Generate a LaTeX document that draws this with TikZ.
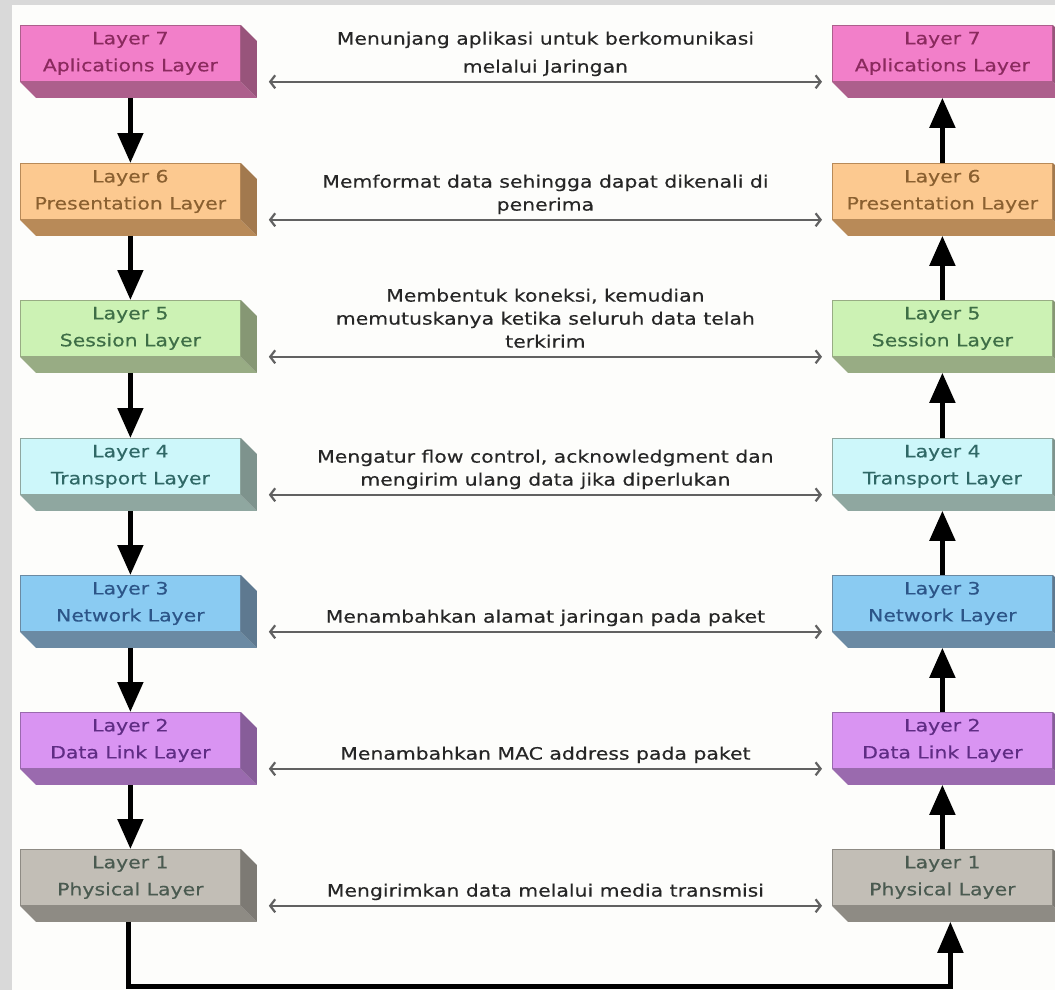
\documentclass[tikz,border=0pt]{standalone}
\usepackage{fontspec}
\setmainfont[FakeStretch=1.2,FakeBold=0.35]{DejaVu Sans}
\usetikzlibrary{arrows.meta,calc}
\definecolor{bgray}{HTML}{D9D9D9}
\definecolor{panel}{HTML}{FDFDFB}
\definecolor{f7}{HTML}{F27FC9}\definecolor{d7}{HTML}{AD5F8C}\definecolor{t7}{HTML}{8A2A5E}
\definecolor{f6}{HTML}{FCC990}\definecolor{d6}{HTML}{B88A58}\definecolor{t6}{HTML}{8A6030}
\definecolor{f5}{HTML}{CCF2B4}\definecolor{d5}{HTML}{98AC84}\definecolor{t5}{HTML}{3E6E46}
\definecolor{f4}{HTML}{CDF7FA}\definecolor{d4}{HTML}{8FA7A0}\definecolor{t4}{HTML}{2F6866}
\definecolor{f3}{HTML}{8ACBF2}\definecolor{d3}{HTML}{6B8AA3}\definecolor{t3}{HTML}{2C5588}
\definecolor{f2}{HTML}{D994F2}\definecolor{d2}{HTML}{9A6AAE}\definecolor{t2}{HTML}{5F2C84}
\definecolor{f1}{HTML}{C2BEB6}\definecolor{d1}{HTML}{8E8B84}\definecolor{t1}{HTML}{4A5A50}
\newcommand\layerbox[7]{%
  \node[layerbox,fill=#4,draw=#5,text=#6] (#1) at (#2,#3) {#7};
  \fill[#5] (#1.south west) -- ++(16,16) -- ($(#1.south east)+(16,16)$) -- (#1.south east) -- cycle;
  \fill[#5!88!black] (#1.north east) -- ++(16,16) -- ($(#1.south east)+(16,16)$) -- (#1.south east) -- cycle;
}
\begin{document}
\begin{tikzpicture}[x=1pt,y=-1pt,
  layerbox/.style={minimum width=220pt,minimum height=56pt,inner sep=0pt,anchor=north west,
    align=center,line width=0.8pt,font=\fontsize{17}{27}\selectfont},
  desc/.style={align=center,inner sep=0pt,text depth=5pt,anchor=south,text=black!85,
    font=\fontsize{17}{23}\selectfont},
  link/.style={draw=black!62,line width=2.2pt,
    {Straight Barb[length=5pt,width=13pt]}-{Straight Barb[length=5pt,width=13pt]}},
  flow/.style={line width=5pt,-{Triangle[length=30pt,width=25pt]}},
  loopline/.style={line width=5pt,-{Triangle[length=31pt,width=25pt]}},
]
\clip (0,0) rectangle (1055,990);
\fill[bgray] (0,0) rectangle (1055,990);
\fill[panel] (12,5) rectangle (1055,990);

% left column
\layerbox{L7}{20}{25}{f7}{d7}{t7}{Layer 7\\Aplications Layer}
\layerbox{L6}{20}{163}{f6}{d6}{t6}{Layer 6\\Presentation Layer}
\layerbox{L5}{20}{300}{f5}{d5}{t5}{Layer 5\\Session Layer}
\layerbox{L4}{20}{438}{f4}{d4}{t4}{Layer 4\\Transport Layer}
\layerbox{L3}{20}{575}{f3}{d3}{t3}{Layer 3\\Network Layer}
\layerbox{L2}{20}{712}{f2}{d2}{t2}{Layer 2\\Data Link Layer}
\layerbox{L1}{20}{849}{f1}{d1}{t1}{Layer 1\\Physical Layer}
% right column
\layerbox{R7}{832}{25}{f7}{d7}{t7}{Layer 7\\Aplications Layer}
\layerbox{R6}{832}{163}{f6}{d6}{t6}{Layer 6\\Presentation Layer}
\layerbox{R5}{832}{300}{f5}{d5}{t5}{Layer 5\\Session Layer}
\layerbox{R4}{832}{438}{f4}{d4}{t4}{Layer 4\\Transport Layer}
\layerbox{R3}{832}{575}{f3}{d3}{t3}{Layer 3\\Network Layer}
\layerbox{R2}{832}{712}{f2}{d2}{t2}{Layer 2\\Data Link Layer}
\layerbox{R1}{832}{849}{f1}{d1}{t1}{Layer 1\\Physical Layer}

% down arrows (left)
\draw[flow] ($(L7.south)+(0,16)$) -- (L6.north);
\draw[flow] ($(L6.south)+(0,16)$) -- (L5.north);
\draw[flow] ($(L5.south)+(0,16)$) -- (L4.north);
\draw[flow] ($(L4.south)+(0,16)$) -- (L3.north);
\draw[flow] ($(L3.south)+(0,16)$) -- (L2.north);
\draw[flow] ($(L2.south)+(0,16)$) -- (L1.north);
% up arrows (right)
\draw[flow] (R6.north) -- ($(R7.south)+(0,16)$);
\draw[flow] (R5.north) -- ($(R6.south)+(0,16)$);
\draw[flow] (R4.north) -- ($(R5.south)+(0,16)$);
\draw[flow] (R3.north) -- ($(R4.south)+(0,16)$);
\draw[flow] (R2.north) -- ($(R3.south)+(0,16)$);
\draw[flow] (R1.north) -- ($(R2.south)+(0,16)$);
% bottom loop
\draw[loopline] ($(L1.south)+(-2,16)$) -- ++(0,65) coordinate (bl) -| ($(R1.south)+(8,16)$);

% horizontal links with descriptions
\foreach \n/\t in {
  7/{Menunjang aplikasi untuk berkomunikasi\\[5pt]melalui Jaringan},
  6/{Memformat data sehingga dapat dikenali di\\penerima},
  5/{Membentuk koneksi, kemudian\\memutuskanya ketika seluruh data telah\\terkirim},
  4/{Mengatur flow control, acknowledgment dan\\mengirim ulang data jika diperlukan},
  3/{Menambahkan alamat jaringan pada paket},
  2/{Menambahkan MAC address pada paket},
  1/{Mengirimkan data melalui media transmisi}}{
  \coordinate (a\n) at ($(L\n.south east)+(28,0)$);
  \coordinate (b\n) at ($(R\n.south west)+(-10,0)$);
  \draw[link] (a\n) -- (b\n);
  \node[desc] (t\n) at ($($(a\n)!0.5!(b\n)$)+(0,-4)$) {\t};
}
\end{tikzpicture}
\end{document}
